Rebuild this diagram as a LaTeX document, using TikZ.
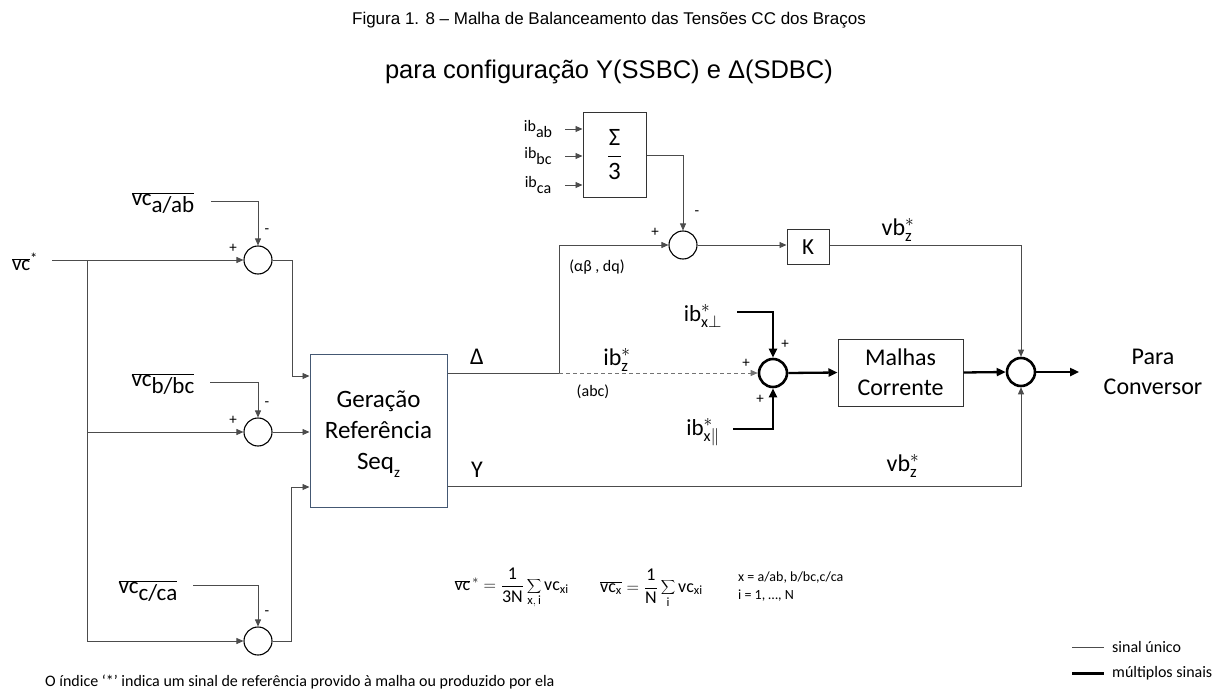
\documentclass[tikz,border=0pt]{standalone}
\usepackage{fontspec}
\setmainfont{Carlito}
\setmathrm{Carlito}
\newfontfamily\titlefont{Liberation Sans}
\usetikzlibrary{arrows.meta}
\newcommand{\ls}[1]{\raisebox{-0.32em}{#1}}
\newcommand{\fs}[2]{\fontsize{#1}{#2}\selectfont}
\definecolor{gerblue}{RGB}{68,88,115}
\begin{document}
\begin{tikzpicture}[x=1pt,y=-1pt,
  thinl/.style={draw=black!70, line width=0.8pt},
  thickl/.style={draw=black, line width=2.3pt},
  arr/.style={-{Triangle[length=7pt,width=6pt]}},
  tarr/.style={-{Triangle[length=9pt,width=8pt]}},
  sumc/.style={circle, draw=black, line width=1.1pt, minimum size=28pt, inner sep=0pt},
  sumct/.style={sumc, line width=2.6pt},
  blk/.style={draw=black!80, line width=1pt, inner sep=0pt, align=center},
  lab/.style={inner sep=0pt, font=\fs{23}{27}},
  slab/.style={inner sep=0pt, font=\fs{16}{18}},
  sgn/.style={inner sep=0pt, font=\fs{15}{16}},
]
\useasboundingbox (0,0) rectangle (1217,695);

% title
\node[inner sep=0pt, font=\titlefont\fs{17}{20}] (t1) at (609,20) {Figura 1. 8 – Malha de Balanceamento das Tensões CC dos Braços};
\node[inner sep=0pt, font=\titlefont\fs{25.5}{30}] (t2) at (609,72) {para configuração Y(SSBC) e Δ(SDBC)};

% sums
\node[sumc] (s1) at (258,260) {};
\node[sumc] (s2) at (258,432) {};
\node[sumc] (s3) at (258,641) {};
\node[sumc] (s4) at (683,245) {};
\node[sumct] (s5) at (773,373) {};
\node[sumct] (s6) at (1021,372) {};

% blocks
\node[blk, draw=gerblue, minimum width=137pt, minimum height=153pt] (ger) at (378.5,430.5) {};
\node[inner sep=0pt, align=center, font=\fs{25}{31}] (gertxt) at (378.5,434) {Geração\\Referência\\Seq\ls{\fs{15}{15}z}};
\node[blk, minimum width=63pt, minimum height=84pt, font=\fs{25}{30}] (sig) at (614.5,155) {$\displaystyle{\hbox{Σ}\over\hbox{3}}$};
\node[blk, minimum width=42pt, minimum height=35pt, font=\fs{23}{27}] (K) at (808,247) {K};
\node[blk, minimum width=125pt, minimum height=67pt, font=\fs{24}{30}] (mal) at (900.5,372.5) {Malhas\\Corrente};

% left inputs
\node[lab, font=\fs{21}{25}] (vcs) at (25,262) {$\overline{\hbox{vc}}$\textsuperscript{*}};
\coordinate (vcin) at (52,260);
\coordinate (br) at (87,260);
\node[lab] (va) at (163,203) {$\overline{\hbox{vc\ls{a/ab}}}$};
\node[lab] (vb) at (163,384) {$\overline{\hbox{vc\ls{b/bc}}}$};
\node[lab] (vcc) at (148,591) {$\overline{\hbox{vc\ls{c/ca}}}$};
\coordinate (vaend) at (211,201);
\coordinate (vbend) at (210,382);
\coordinate (vcend) at (193,585);

\draw[thinl,arr] (vcin) -- (s1.west);
\draw[thinl] (br) -- (87,641) coordinate (brb);
\draw[thinl,arr] (brb) -- (s3.west);
\draw[thinl,arr] (br |- s2) -- (s2.west);
\draw[thinl,arr] (vaend) -| (s1.north);
\draw[thinl,arr] (vbend) -| (s2.north);
\draw[thinl,arr] (vcend) -| (s3.north);

\coordinate (in1) at (292,376);
\coordinate (in3) at (291,487);
\draw[thinl,arr] (s1.east) -| (in1) -- (ger.west |- in1);
\draw[thinl,arr] (s2.east) -- (ger.west |- s2);
\draw[thinl,arr] (s3.east) -| (in3) -- (ger.west |- in3);

% signs left
\node[sgn] at (233,248) {+};
\node[sgn] at (267,231) {-};
\node[sgn] at (233,420) {+};
\node[sgn] at (267,404) {-};
\node[sgn] at (267,613) {-};

% sigma inputs
\node[slab] (iab) at (538,129) {ib\ls{ab}};
\node[slab] (ibc) at (538,156) {ib\ls{bc}};
\node[slab] (ica) at (538,185) {ib\ls{ca}};
\draw[thinl,arr] (565,129) coordinate (a1) -- (sig.west |- a1);
\draw[thinl,arr] (565,156) coordinate (a2) -- (sig.west |- a2);
\draw[thinl,arr] (565,185) coordinate (a3) -- (sig.west |- a3);
\draw[thinl,arr] (sig.east) -| (s4.north);

% delta path
\coordinate (dout) at (447,373);
\coordinate (dsplit) at (559,373);
\draw[thinl] (ger.east |- dout) -- (dsplit);
\draw[thinl,arr] (dsplit) |- (s4.west);
\draw[draw=black!55, line width=0.8pt, dash pattern=on 4pt off 3pt, arr] (dsplit) -- (s5.west);
\draw[thinl,arr] (s4.east) -- (K.west |- s4);
\draw[thinl,arr] (K.east |- s4) -| (s6.north);
\coordinate (yout) at (447,486);
\draw[thinl,arr] (ger.east |- yout) -| (s6.south);

% thick
\coordinate (perpin) at (737,312);
\coordinate (parin) at (733,429);
\draw[thickl,tarr] (perpin) -| (s5.north);
\draw[thickl,tarr] (parin) -| (s5.south);
\draw[thickl,tarr] (s5.east) -- (mal.west);
\draw[thickl,tarr] (mal.east) -- (s6.west);
\coordinate (outp) at (1079,372);
\draw[thickl,tarr] (s6.east) -- (outp);

% signs middle
\node[sgn] at (655,232) {+};
\node[sgn] at (697,213) {-};
\node[sgn] at (746,363) {+};
\node[sgn] at (785,344) {+};
\node[sgn] at (760,399) {+};

% labels
\node[lab, font=\fs{24}{28}] (dl) at (477,357) {Δ};
\node[lab, font=\fs{24}{28}] (yl) at (477,470) {Y};
\node[slab] (ab) at (597,267) {(αβ , dq)};
\node[slab] (abc) at (593,392) {(abc)};
\node[lab, font=\fs{24}{28}] (ibz) at (617,360) {ib$_{\mathrm{z}}^{\mathrm{*}}$};
\node[lab] (ibp) at (703,316) {ib$_{\mathrm{x}\perp}^{\mathrm{*}}$};
\node[lab] (ibl) at (703,432) {ib$_{\mathrm{x}\Vert}^{\mathrm{*}}$};
\node[lab, font=\fs{24}{28}] (vb1) at (898,230) {vb$_{\mathrm{z}}^{\mathrm{*}}$};
\node[lab, font=\fs{24}{28}] (vb2) at (903,466) {vb$_{\mathrm{z}}^{\mathrm{*}}$};
\node[lab, font=\fs{24}{30}, align=center] (para) at (1153,372) {Para\\Conversor};

% formulas
\node[inner sep=0pt, anchor=east, font=\fs{18}{21}] (f1) at (569,588) {$\displaystyle\overline{\mathrm{vc}}^{\,\mathrm{*}} = \frac{\mathrm{1}}{\mathrm{3N}}\sum_{\mathrm{x,\,i}}\mathrm{vc}_{\mathrm{xi}}$};
\node[inner sep=0pt, anchor=west, font=\fs{18}{21}] (f2) at (600,588) {$\displaystyle\overline{\mathrm{vc}_{\mathrm{x}}} = \frac{\mathrm{1}}{\mathrm{N}}\sum_{\mathrm{i}}\mathrm{vc}_{\mathrm{xi}}$};
\node[inner sep=0pt, anchor=west, font=\fs{14}{16}] (f3) at (738,578) {x = a/ab, b/bc,c/ca};
\node[inner sep=0pt, anchor=west, font=\fs{14}{16}] (f4) at (738,596) {i = 1, …, N};

% footnote
\node[inner sep=0pt, anchor=west, font=\fs{16}{18}] (fn) at (45,682) {O índice ‘*’ indica um sinal de referência provido à malha ou produzido por ela};

% legend
\coordinate (l1a) at (1072,647); \coordinate (l1b) at (1104,647);
\coordinate (l2a) at (1072,673); \coordinate (l2b) at (1104,673);
\draw[thinl] (l1a) -- (l1b);
\draw[thickl, line width=3pt] (l2a) -- (l2b);
\node[inner sep=0pt, anchor=west, font=\fs{16}{18}] (lt1) at (1112,647) {sinal único};
\node[inner sep=0pt, anchor=west, font=\fs{16}{18}] (lt2) at (1112,673) {múltiplos sinais};
\end{tikzpicture}
\end{document}
